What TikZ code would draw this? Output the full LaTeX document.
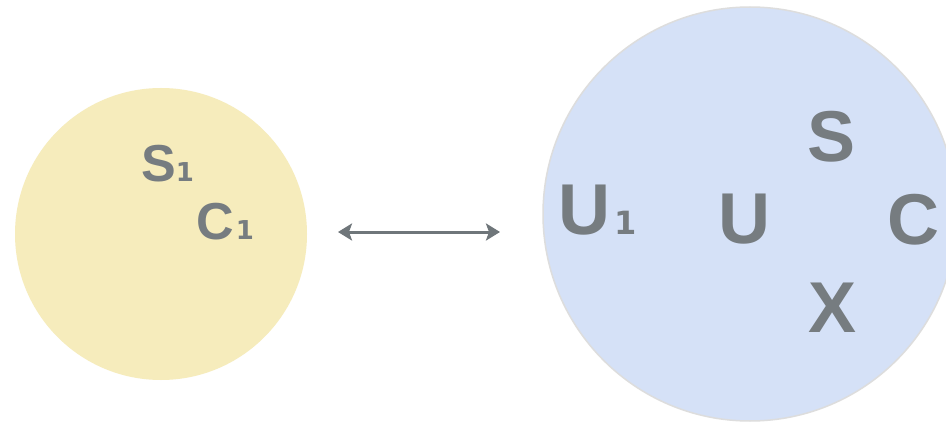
\documentclass[tikz,border=0pt]{standalone}
\usepackage{fontspec}
\setmainfont{Liberation Sans}
\newfontfamily\subfnt{DejaVu Sans}
\usetikzlibrary{arrows.meta}
\definecolor{txtgray}{HTML}{767C80}
\definecolor{arrgray}{HTML}{6F767A}
\definecolor{yelfill}{HTML}{F6ECBC}
\definecolor{blufill}{HTML}{D5E1F7}
\definecolor{bluborder}{HTML}{DDDDDD}
\begin{document}
\begin{tikzpicture}[x=1pt,y=1pt,
  smalllbl/.style={font=\fontsize{52}{52}\selectfont\bfseries, text=txtgray, inner sep=0pt, anchor=base west},
  biglbl/.style={font=\fontsize{72}{72}\selectfont\bfseries, text=txtgray, inner sep=0pt},
  setcircle/.style={circle, inner sep=0pt},
  link/.style={draw=arrgray, line width=3pt, {Stealth[length=14pt,width=17pt,inset=3pt]}-{Stealth[length=14pt,width=17pt,inset=3pt]}}
]
\useasboundingbox (0,0) rectangle (946,424);
\clip (0,0) rectangle (946,424);
\fill[white] (0,0) rectangle (946,424);
% circles
\node[setcircle, fill=yelfill, minimum size=292pt] (yc) at (161,190) {};
\node[setcircle, fill=blufill, draw=bluborder, line width=1.5pt, minimum size=414pt] (bc) at (750,210) {};
% labels in the small set
\node[smalllbl] (s1) at (141,243) {S{\subfnt\bfseries\fontsize{26}{26}\selectfont 1}};
\node[smalllbl] (c1) at (196,185) {C\kern2pt{\subfnt\bfseries\fontsize{26}{26}\selectfont 1}};
% labels in the big set
\node[biglbl, anchor=base west] (u1) at (558,190) {U\kern4pt{\subfnt\bfseries\fontsize{32}{32}\selectfont 1}};
\node[biglbl, anchor=base] (u) at (744,181) {U};
\node[biglbl, anchor=base] (s) at (832,262) {S};
\node[biglbl, anchor=base] (c) at (913,180) {C};
\node[biglbl, anchor=base] (x) at (833,92) {X};
% arrow
\coordinate (al) at (338,192);
\coordinate (ar) at (500,192);
\draw[link] (al) -- (ar);
\end{tikzpicture}
\end{document}
